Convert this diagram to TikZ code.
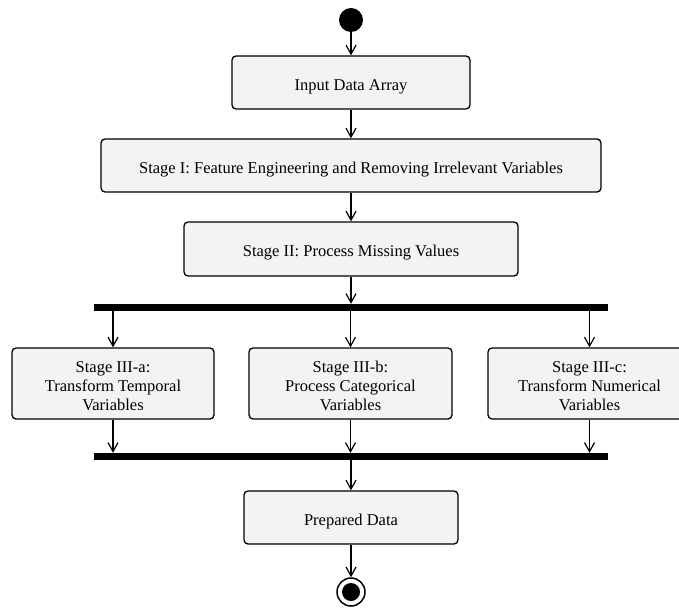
\documentclass[tikz,border=0pt]{standalone}
\usepackage{fontspec}
\setmainfont{Liberation Serif}
\usetikzlibrary{arrows.meta}
\definecolor{boxfill}{HTML}{F3F3F3}
\newcommand{\mlines}[1]{\raisebox{-4pt}[\height][\depth]{\begin{tabular}{@{}c@{}}#1\end{tabular}}}
\begin{document}
\begin{tikzpicture}[x=1pt,y=-1pt,
  stagebox/.style={draw=black,line width=1.3pt,fill=boxfill,rounded corners=4pt,
     align=center,inner sep=0pt,font=\fontsize{16.5}{19}\selectfont,
     execute at begin node={\rule{0pt}{19.5pt}}},
  flow/.style={draw=black,line width=1.2pt,-{Straight Barb[length=9pt,width=10pt,line width=1.2pt]}},
  barstyle/.style={fill=black,draw=none,inner sep=0pt}]
\useasboundingbox (0,0) rectangle (679,607);
\clip (0,0) rectangle (679,607);
\node[circle,fill=black,minimum size=24pt,inner sep=0pt] (start) at (351,20) {};
\node[stagebox,minimum width=238pt,minimum height=53pt] (input) at (351,82.5) {Input Data Array};
\node[stagebox,minimum width=500pt,minimum height=53pt] (s1) at (351,165.5) {Stage I: Feature Engineering and Removing Irrelevant Variables};
\node[stagebox,minimum width=334pt,minimum height=54pt] (s2) at (351,249) {Stage II: Process Missing Values};
\node[barstyle,minimum width=514pt,minimum height=7pt] (fork) at (351,307.5) {};
\node[stagebox,minimum width=202pt,minimum height=71pt] (s3a) at (113,383.5) {\mlines{Stage III-a:\\Transform Temporal\\Variables}};
\node[stagebox,minimum width=203pt,minimum height=71pt] (s3b) at (350.5,383.5) {\mlines{Stage III-b:\\Process Categorical\\Variables}};
\node[stagebox,minimum width=203pt,minimum height=71pt] (s3c) at (589.5,383.5) {\mlines{Stage III-c:\\Transform Numerical\\Variables}};
\node[barstyle,minimum width=514pt,minimum height=7pt] (join) at (351,456.5) {};
\node[stagebox,minimum width=214pt,minimum height=53pt] (prep) at (351,517.5) {Prepared Data};
\node[circle,draw=black,line width=1.5pt,fill=white,minimum size=28pt,inner sep=0pt] (end) at (351,592) {};
\node[circle,fill=black,minimum size=18pt,inner sep=0pt] (endin) at (end.center) {};
\draw[flow] (start) -- (input);
\draw[flow] (input) -- (s1);
\draw[flow] (s1) -- (s2);
\draw[flow] (s2) -- (fork);
\draw[flow] (fork.south -| s3a.north) -- (s3a.north);
\draw[flow] (fork.south -| s3b.north) -- (s3b.north);
\draw[flow] (fork.south -| s3c.north) -- (s3c.north);
\draw[flow] (s3a.south) -- (join.north -| s3a.south);
\draw[flow] (s3b.south) -- (join.north -| s3b.south);
\draw[flow] (s3c.south) -- (join.north -| s3c.south);
\draw[flow] (join) -- (prep);
\draw[flow] (prep) -- (end);
\end{tikzpicture}
\end{document}
